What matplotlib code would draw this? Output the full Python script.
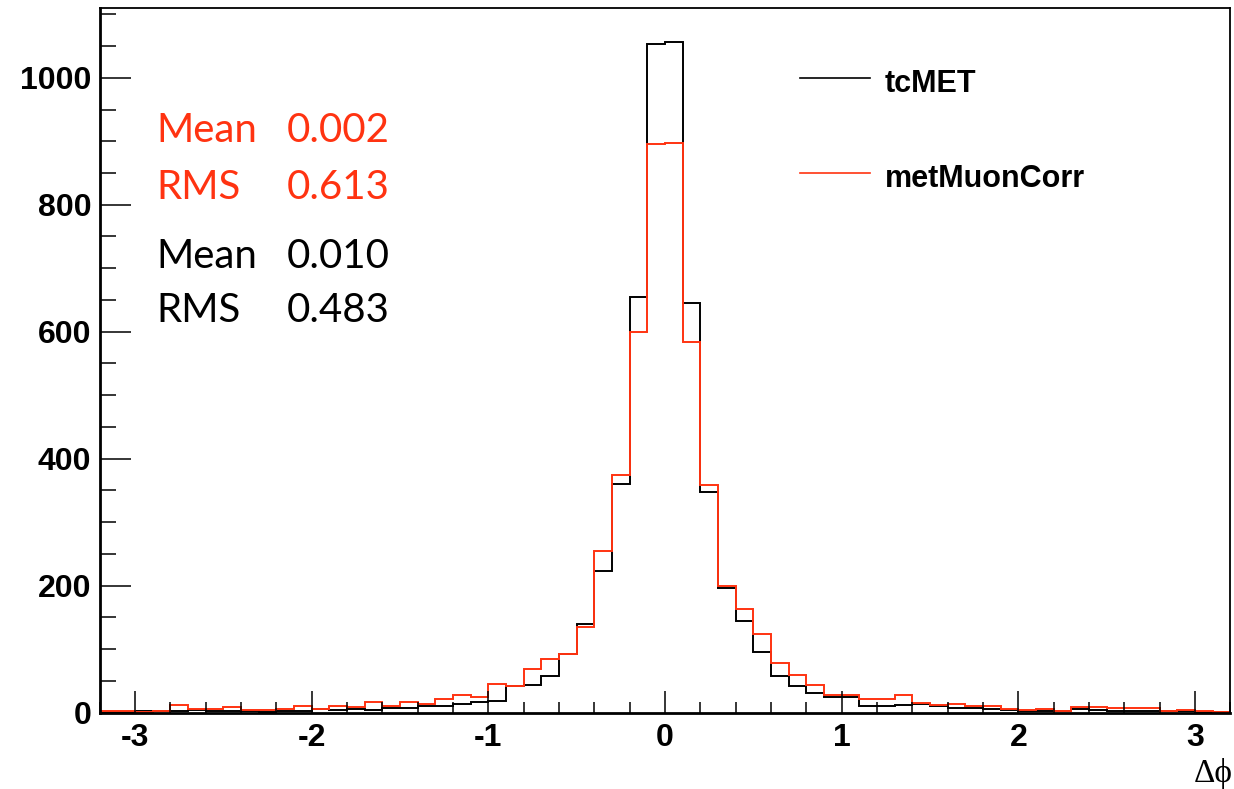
import numpy as np
import matplotlib
matplotlib.use("Agg")
import matplotlib.pyplot as plt
from matplotlib.lines import Line2D

# Histogram: 64 bins of width 0.1 from -3.2 to 3.2
bin_lo = -3.2
bin_hi = 3.2
n_bins = 64

tcmet = [1, 1, 2, 2, 3, 4, 2, 3, 2, 1, 3, 3, 6, 4, 6, 4,
         7, 7, 10, 11, 13, 16, 18, 41, 44, 57, 92, 140, 223, 360, 655, 1054,
         1056, 645, 347, 196, 144, 95, 58, 42, 30, 25, 25, 11, 10, 12, 13, 10,
         7, 7, 6, 4, 2, 3, 2, 5, 4, 3, 2, 2, 2, 3, 1, 1]

metmuoncorr = [2, 2, 1, 2, 12, 6, 5, 8, 4, 4, 5, 11, 6, 10, 8, 16,
               10, 16, 14, 21, 28, 24, 45, 41, 69, 84, 92, 134, 254, 374, 599, 895,
               897, 583, 358, 199, 163, 123, 78, 59, 44, 28, 27, 22, 21, 27, 15, 12,
               13, 11, 10, 6, 4, 6, 3, 8, 9, 7, 7, 7, 3, 4, 2, 1]

series_names = ["tcMET", "metMuonCorr"]
stats_red = [("Mean", "0.002"), ("RMS", "0.613")]
stats_black = [("Mean", "0.010"), ("RMS", "0.483")]
x_ticks = [-3, -2, -1, 0, 1, 2, 3]
y_ticks = [0, 200, 400, 600, 800, 1000]
x_label = "Δϕ"

RED = "#ff3311"
W, H = 1234, 789
fig = plt.figure(figsize=(W / 100, H / 100), dpi=100)
ax = fig.add_axes([99.5 / W, 1 - 712.5 / H, (1230.3 - 99.5) / W, (712.5 - 8) / H])

edges = np.linspace(bin_lo, bin_hi, n_bins + 1)
ax.stairs(tcmet, edges, color="black", lw=1.4, baseline=None)
ax.stairs(metmuoncorr, edges, color=RED, lw=1.4, baseline=None)

ax.set_xlim(bin_lo, bin_hi)
ax.set_ylim(0, 1110)

ax.set_xticks(x_ticks)
ax.set_xticks(np.arange(-3.2, 3.21, 0.2), minor=True)
ax.set_yticks(y_ticks)
ax.set_yticks(np.arange(0, 1101, 50), minor=True)

tickfont = dict(family="Liberation Sans", weight="bold", size=23)
ax.set_xticklabels([str(t) for t in x_ticks], fontdict=tickfont)
ax.set_yticklabels([str(t) for t in y_ticks], fontdict=tickfont)

ax.tick_params(axis="x", which="major", direction="in", length=15.8, width=1.1, pad=7.6)
ax.tick_params(axis="x", which="minor", direction="in", length=7.9, width=1.1)
ax.tick_params(axis="y", which="major", direction="in", length=22.3, width=1.1, pad=6.0)
ax.tick_params(axis="y", which="minor", direction="in", length=11.5, width=1.1)
ax.tick_params(top=False, right=False, which="both")

for s in ["left", "bottom"]:
    ax.spines[s].set_linewidth(2.0)
for s in ["top", "right"]:
    ax.spines[s].set_linewidth(1.3)

def fx(px):
    return px / W

def fy(py):
    return 1 - py / H

# Legend
legfont = dict(family="Liberation Sans", weight="bold", size=22)
for name, col, ly, by in [(series_names[0], "black", 77.7, 91.7),
                          (series_names[1], RED, 172.7, 187.0)]:
    fig.add_artist(Line2D([fx(800), fx(870)], [fy(ly), fy(ly)], color=col, lw=1.2))
    fig.text(fx(885), fy(by), name, ha="left", va="baseline", **legfont)

# Stats boxes
statfont = dict(family="Lato", size=29)
for (lab, val), base in zip(stats_red, [141.7, 199.0]):
    fig.text(fx(156), fy(base), lab, color=RED, ha="left", va="baseline", **statfont)
    fig.text(fx(287), fy(base), val, color=RED, ha="left", va="baseline", **statfont)
for (lab, val), base in zip(stats_black, [268.3, 321.7]):
    fig.text(fx(156), fy(base), lab, color="black", ha="left", va="baseline", **statfont)
    fig.text(fx(287), fy(base), val, color="black", ha="left", va="baseline", **statfont)

fig.text(fx(1233), fy(782), x_label, ha="right", va="baseline",
         family="Liberation Serif", size=24)

fig.savefig("out.png", dpi=100)
